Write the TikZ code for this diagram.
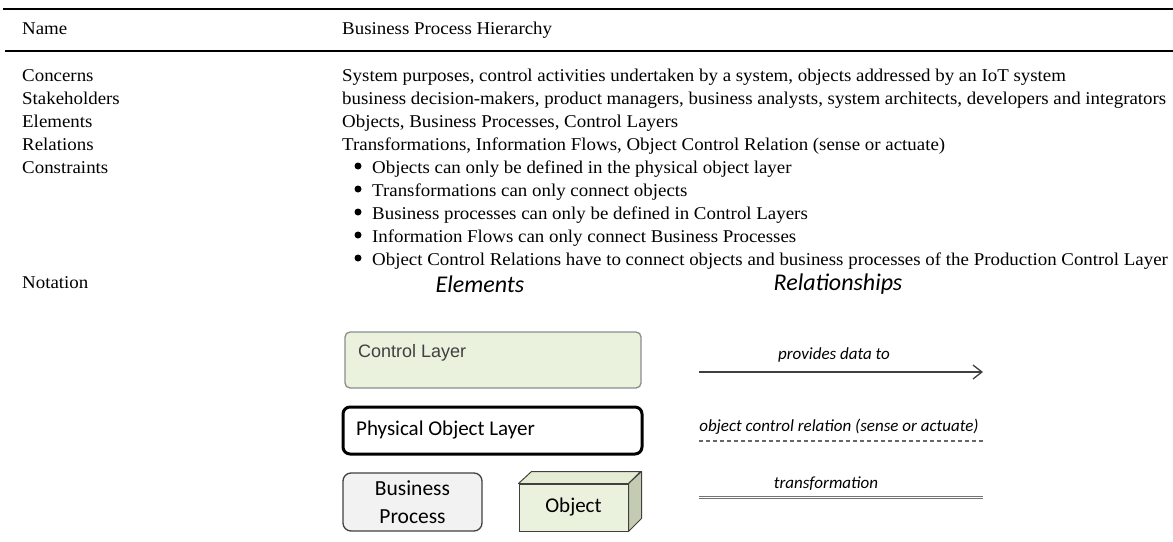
\documentclass[tikz,border=0pt]{standalone}
\usepackage{fontspec}
\setmainfont[FakeStretch=1.05]{Liberation Serif}
\newfontfamily\carlito{Carlito}
\newfontfamily\arialsans{Liberation Sans}
\usetikzlibrary{arrows.meta}
\definecolor{layergreen}{HTML}{EAF1DD}
\definecolor{layerborder}{HTML}{8C8C8C}
\definecolor{procgray}{HTML}{F2F2F2}
\definecolor{objside}{HTML}{C3CBB3}
\definecolor{objtop}{HTML}{E4ECD4}
\definecolor{linegray}{HTML}{404040}
\tikzset{
  tabtext/.style={anchor=base west, inner sep=0pt, font=\fontsize{18}{21}\selectfont},
  headtext/.style={anchor=center, inner sep=0pt, font=\carlito\itshape\fontsize{24}{28}\selectfont},
  reltext/.style={anchor=center, inner sep=0pt, font=\carlito\itshape\fontsize{17}{20}\selectfont},
  relline/.style={line width=1.3pt, draw=linegray},
  rulethick/.style={line width=2.2pt, draw=black},
  bulletdot/.style={circle, fill=black, inner sep=0pt, minimum size=7pt}
}
\begin{document}
\begin{tikzpicture}[x=1pt, y=-1pt]
\useasboundingbox (0,0) rectangle (1173,541);
% rules
\draw[rulethick] (3,9) -- (1173,9);
\draw[rulethick] (5,51) -- (1173,51);
% header
\node[tabtext] (name) at (22,34) {Name};
\node[tabtext] (bph) at (342,34) {Business Process Hierarchy};
% rows
\node[tabtext] (concerns) at (22,81) {Concerns};
\node[tabtext] (concernsv) at (342,81) {System purposes, control activities undertaken by a system, objects addressed by an IoT system};
\node[tabtext] (stake) at (22,104) {Stakeholders};
\node[tabtext] (stakev) at (342,104) {business decision-makers, product managers, business analysts, system architects, developers and integrators};
\node[tabtext] (elem) at (22,127) {Elements};
\node[tabtext] (elemv) at (342,127) {Objects, Business Processes, Control Layers};
\node[tabtext] (rel) at (22,150) {Relations};
\node[tabtext] (relv) at (342,150) {Transformations, Information Flows, Object Control Relation (sense or actuate)};
\node[tabtext] (cons) at (22,173) {Constraints};
\node[bulletdot] (b1) at (358,166) {};
\node[tabtext] (c1) at (372,173) {Objects can only be defined in the physical object layer};
\node[bulletdot] (b2) at (358,189) {};
\node[tabtext] (c2) at (372,196) {Transformations can only connect objects};
\node[bulletdot] (b3) at (358,212) {};
\node[tabtext] (c3) at (372,219) {Business processes can only be defined in Control Layers};
\node[bulletdot] (b4) at (358,235) {};
\node[tabtext] (c4) at (372,242) {Information Flows can only connect Business Processes};
\node[bulletdot] (b5) at (358,258) {};
\node[tabtext] (c5) at (372,265) {Object Control Relations have to connect objects and business processes of the Production Control Layer};
\node[tabtext] (nota) at (22,288) {Notation};
% notation headings
\node[headtext] (hel) at (480,284) {Elements};
\node[headtext] (hrel) at (838,284) {Relationships};
% Control layer
\node[draw=layerborder, fill=layergreen, line width=1.3pt, rounded corners=5pt,
      minimum width=296pt, minimum height=56pt, inner sep=0pt] (cl) at (493,360) {};
\node[anchor=base west, inner sep=0pt, text=linegray, font=\arialsans\fontsize{18}{21}\selectfont] (cltext) at (358,357.5) {Control Layer};
% Physical object layer
\node[draw=black, fill=white, line width=3pt, rounded corners=7pt,
      minimum width=299pt, minimum height=47pt, inner sep=0pt] (pol) at (492.5,430.5) {};
\node[anchor=base west, inner sep=0pt, font=\carlito\fontsize{21}{25}\selectfont] (poltext) at (356,435) {Physical Object Layer};
% Business process
\node[draw=linegray, fill=procgray, line width=1.3pt, rounded corners=8pt,
      minimum width=139pt, minimum height=58pt, inner sep=0pt, align=center,
      font=\carlito\fontsize{21.5}{28}\selectfont] (bp) at (412.5,502) {Business\\Process};
% Object cube
\node[draw=linegray, fill=layergreen, line width=1pt, minimum width=109pt, minimum height=47pt,
      inner sep=0pt, font=\carlito\fontsize{21}{25}\selectfont] (obj) at (573.5,507.5) {Object};
\draw[draw=linegray, fill=objtop, line width=1pt, line join=round]
  (obj.north west) -- ++(13,-12) -- ++(109,0) -- (obj.north east) -- cycle;
\draw[draw=linegray, fill=objside, line width=1pt, line join=round]
  (obj.north east) -- ++(13,-12) -- ++(0,47) -- (obj.south east) -- cycle;
% Relationships
\coordinate (a1) at (699,372);
\coordinate (a2) at (983,372);
\coordinate (d1) at (699,441);
\coordinate (d2) at (983,441);
\coordinate (t1) at (699,497.5);
\coordinate (t2) at (983,497.5);
\draw[relline, -{Straight Barb[length=9pt, width=14pt, line width=1.3pt]}] (a1) -- (a2);
\draw[relline, dash pattern=on 4pt off 3pt, draw=gray!80!black] (d1) -- (d2);
\draw[line width=1.1pt, draw=gray!90!black, double=white, double distance=1.4pt] (t1) -- (t2);
\node[reltext] (lprov) at (834,355) {provides data to};
\node[reltext] (locr) at (839,427) {object control relation (sense or actuate)};
\node[reltext] (ltrans) at (826,484) {transformation};
\end{tikzpicture}
\end{document}
